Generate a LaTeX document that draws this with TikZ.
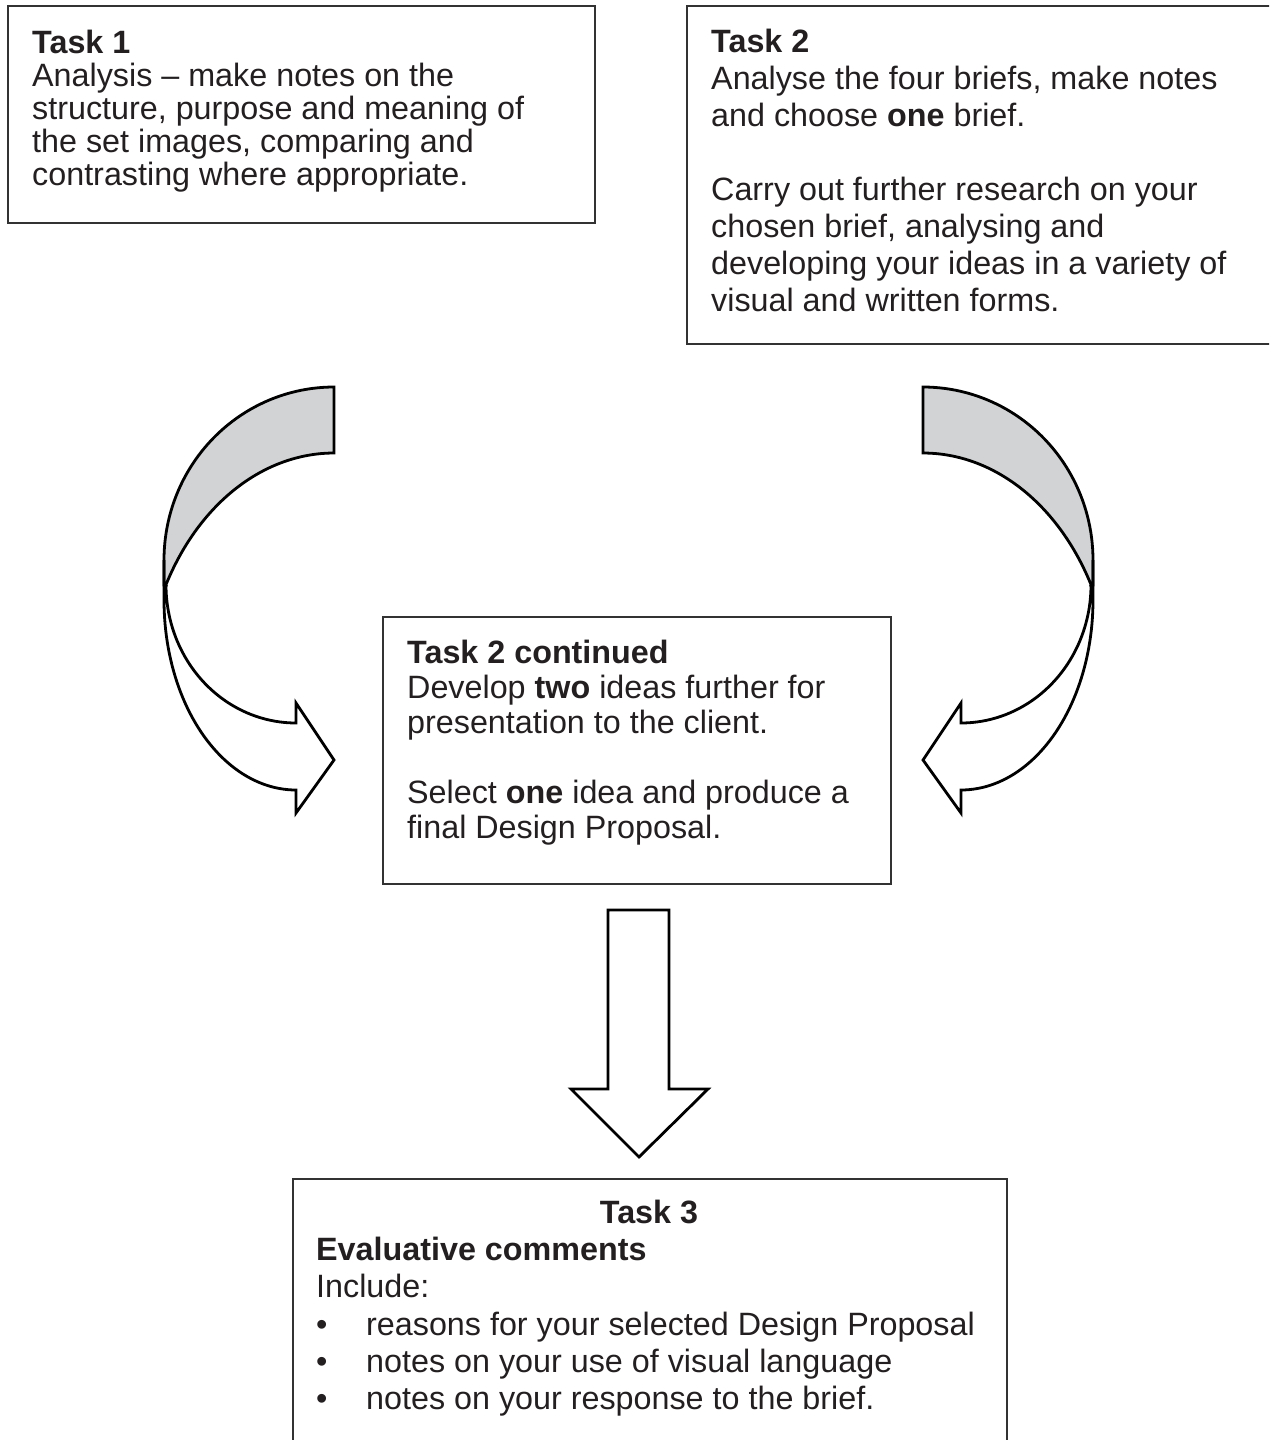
\documentclass[tikz,border=0pt]{standalone}
\usepackage{fontspec}
\setmainfont{Liberation Sans}
\newcommand\bodyfont{\fontsize{32.3}{37}\selectfont}
\definecolor{txt}{RGB}{35,31,32}
\definecolor{grayband}{RGB}{209,211,212}
\definecolor{boxline}{RGB}{50,50,50}
\tikzset{
  tbox/.style={draw=boxline, line width=1.6pt, inner sep=0pt, anchor=north west},
  ln/.style={anchor=base west, inner sep=0pt, font=\bodyfont, text=txt},
  arr/.style={draw=black, line width=2.8pt, line join=miter},
  curvearrow/.pic={
    \filldraw[arr, fill=grayband]
      plot[domain=270:180, samples=50] ({334+170*cos(\x)},{560+173*sin(\x)})
      -- (164,585) -- (166,585)
      -- plot[domain=207.8:270, samples=50] ({334+190*cos(\x)},{700+247*sin(\x)})
      -- cycle;
    \draw[arr]
      (164,560) -- (164,600)
      -- plot[domain=180:90, samples=50] ({296+132*cos(\x)},{600+190*sin(\x)})
      -- (296,813) -- (334,760) -- (296,703) -- (296,723)
      -- plot[domain=90:180, samples=50] ({296+130*cos(\x)},{585+138*sin(\x)});
  }
}
\begin{document}
\begin{tikzpicture}[x=1pt,y=-1pt]
\useasboundingbox (0,0) rectangle (1269,1440);
\clip (0,0) rectangle (1269,1440);

% boxes
\node[tbox, minimum width=587pt, minimum height=217pt] (box1) at (7,5) {};
\node[tbox, minimum width=600pt, minimum height=338pt] (box2) at (686,5) {};
\node[tbox, minimum width=508pt, minimum height=267pt] (box2c) at (382,616) {};
\node[tbox, minimum width=714pt, minimum height=280pt] (box3) at (292,1178) {};

% Task 1
\node[ln] (t1a) at (32,53)  {\textbf{Task 1}};
\node[ln] (t1b) at (32,86)  {Analysis – make notes on the};
\node[ln] (t1c) at (32,119) {structure, purpose and meaning of};
\node[ln] (t1d) at (32,152) {the set images, comparing and};
\node[ln] (t1e) at (32,185) {contrasting where appropriate.};

% Task 2
\node[ln] (t2a) at (711,52)  {\textbf{Task 2}};
\node[ln] (t2b) at (711,89)  {Analyse the four briefs, make notes};
\node[ln] (t2c) at (711,126) {and choose \textbf{one} brief.};
\node[ln] (t2d) at (711,200) {Carry out further research on your};
\node[ln] (t2e) at (711,237) {chosen brief, analysing and};
\node[ln] (t2f) at (711,274) {developing your ideas in a variety of};
\node[ln] (t2g) at (711,311) {visual and written forms.};

% Task 2 continued
\node[ln] (t3a) at (407,663) {\textbf{Task 2 continued}};
\node[ln] (t3b) at (407,698) {Develop \textbf{two} ideas further for};
\node[ln] (t3c) at (407,733) {presentation to the client.};
\node[ln] (t3d) at (407,803) {Select \textbf{one} idea and produce a};
\node[ln] (t3e) at (407,838) {final Design Proposal.};

% Task 3
\node[ln, anchor=base] (t4a) at (649,1223) {\textbf{Task 3}};
\node[ln] (t4b) at (316,1260) {\textbf{Evaluative comments}};
\node[ln] (t4c) at (316,1297) {Include:};
\node[ln] (bu1) at (316,1335) {•};
\node[ln] (bu2) at (316,1372) {•};
\node[ln] (bu3) at (316,1409) {•};
\node[ln] (t4d) at (366,1335) {reasons for your selected Design Proposal};
\node[ln] (t4e) at (366,1372) {notes on your use of visual language};
\node[ln] (t4f) at (366,1409) {notes on your response to the brief.};

% curved arrows
\pic (leftarrow) at (0,0) {curvearrow};
\pic[xscale=-1] (rightarrow) at (1257,0) {curvearrow};

% down arrow
\draw[arr] (608,910) -- (669,910) -- (669,1089) -- (708,1089) -- (639,1157)
  -- (571,1089) -- (608,1089) -- cycle;
\end{tikzpicture}
\end{document}
